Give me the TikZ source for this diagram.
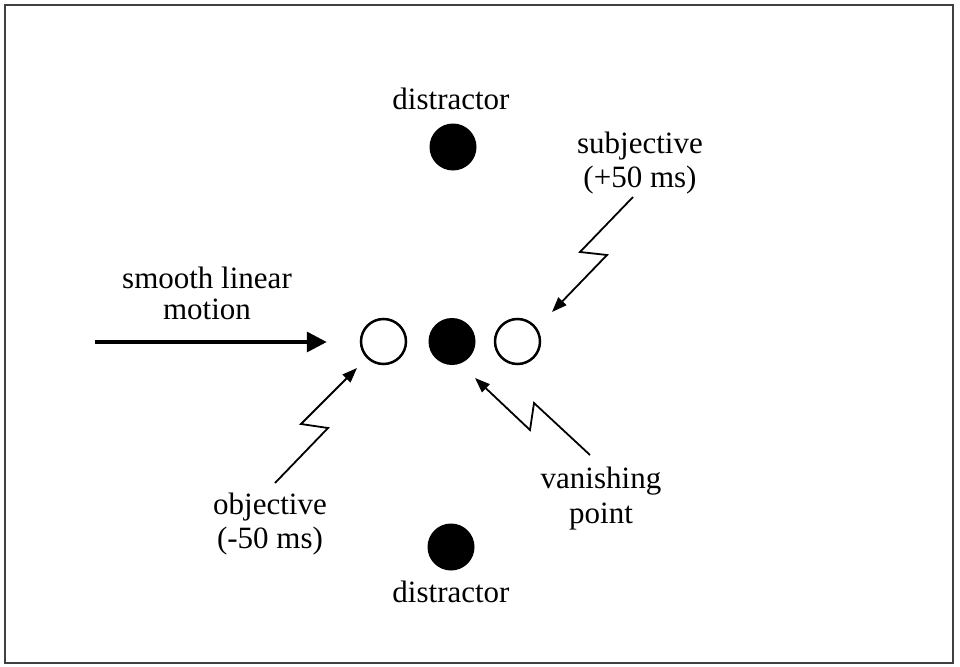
\documentclass[tikz,border=0pt]{standalone}
\usepackage{fontspec}
\setmainfont{Liberation Serif}
\usetikzlibrary{arrows.meta}
\begin{document}
\begin{tikzpicture}[x=1pt,y=-1pt,
  lbl/.style={inner sep=0pt, anchor=base, font=\fontsize{31}{34}\selectfont},
  opendot/.style={circle, draw=black, line width=2.5pt, minimum size=45pt, inner sep=0pt},
  fulldot/.style={circle, fill=black, minimum size=47pt, inner sep=0pt},
  zig/.style={line width=1.8pt, line join=miter, -{Triangle[length=15pt,width=11pt]}},
  motionarrow/.style={line width=3.5pt, -{Triangle[length=20pt,width=20pt]}},
  frame/.style={draw=black!75, line width=1.3pt}]
\useasboundingbox (0,0) rectangle (960,666);
\draw[frame] (5,5) rectangle (953,663);

% dots
\node[fulldot] (dtop) at (453,147) {};
\node[fulldot] (dbot) at (451,547) {};
\node[opendot] (obj) at (383.5,341.5) {};
\node[fulldot] (van) at (452,341.5) {};
\node[opendot] (subj) at (517.5,341.5) {};

% labels
\node[lbl] (dtopl) at (451,110) {distractor};
\node[lbl] (dbotl) at (451,602) {distractor};
\node[lbl] (subjl1) at (640,153) {subjective};
\node[lbl] (subjl2) at (640,187) {(+50 ms)};
\node[lbl] (mot1) at (207,288) {smooth linear};
\node[lbl] (mot2) at (207,319) {motion};
\node[lbl] (objl1) at (270,514) {objective};
\node[lbl] (objl2) at (270,548) {(-50 ms)};
\node[lbl] (vanl1) at (601,488) {vanishing};
\node[lbl] (vanl2) at (601,523) {point};

% main motion arrow
\coordinate (m0) at (95,342);
\draw[motionarrow] (m0) -- ([xshift=-33pt]obj.west |- m0);

% subjective zigzag
\coordinate (s0) at (633,197);
\coordinate (s1) at (580,252);
\coordinate (s2) at (607,255);
\coordinate (s3) at ([shift={(34.5,-29.5)}]subj.center);
\draw[zig] (s0) -- (s1) -- (s2) -- (s3);

% objective zigzag
\coordinate (o0) at (275,483);
\coordinate (o1) at (328,428);
\coordinate (o2) at (301,424);
\coordinate (o3) at ([shift={(-26.5,26.5)}]obj.center);
\draw[zig] (o0) -- (o1) -- (o2) -- (o3);

% vanishing point zigzag
\coordinate (v0) at (590,455);
\coordinate (v1) at (534,403);
\coordinate (v2) at (530,430);
\coordinate (v3) at ([shift={(23,36.5)}]van.center);
\draw[zig] (v0) -- (v1) -- (v2) -- (v3);
\end{tikzpicture}
\end{document}
